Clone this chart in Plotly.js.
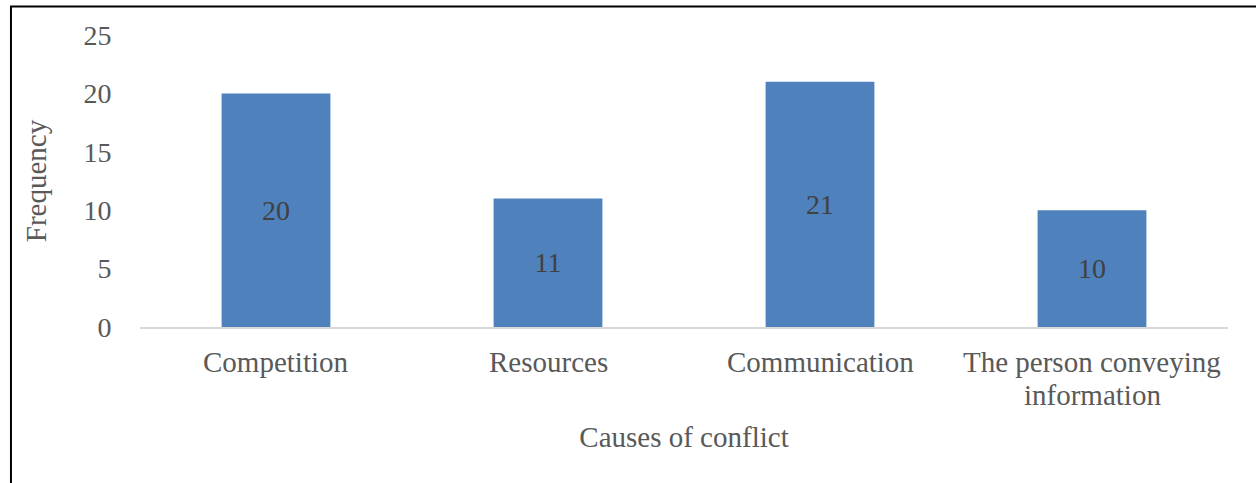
<!DOCTYPE html>
<html>
<head>
<meta charset="utf-8">
<script src="https://cdn.plot.ly/plotly-3.0.1.min.js"></script>
<style>
  html, body { margin: 0; padding: 0; background: #fff; }
  #chart { width: 1256px; height: 483px; }
</style>
</head>
<body>
<div id="chart"></div>
<script>
// Causes of conflict and how often each was reported
const categories = ['Competition', 'Resources', 'Communication', 'The person conveying<br>information'];
const frequency = [20, 11, 21, 10];
const yTicks = [0, 5, 10, 15, 20, 25];

const serif = '"Liberation Serif", "Times New Roman", serif';
const grey = '#595959';

const trace = {
  type: 'bar',
  x: categories,
  y: frequency,
  width: 0.4,
  marker: { color: '#4f81bd', line: { width: 0 } },
  text: frequency.map(String),
  textposition: 'inside',
  insidetextanchor: 'middle',
  textangle: 0,
  textfont: { family: serif, size: 28, color: '#404040' },
  hoverinfo: 'x+y'
};

// category labels, one annotation per text line so the line gap stays tight
const labelLines = [];
categories.forEach(function (cat) {
  cat.split('<br>').forEach(function (line, i) {
    labelLines.push({
      x: cat, xref: 'x',
      y: 0, yref: 'paper',
      yanchor: 'middle', xanchor: 'center',
      yshift: -35 - i * 33,
      text: line,
      showarrow: false,
      font: { family: serif, size: 29, color: grey }
    });
  });
});

const layout = {
  width: 1256,
  height: 483,
  margin: { l: 140, r: 28, t: 34.5, b: 156 },
  paper_bgcolor: '#ffffff',
  plot_bgcolor: '#ffffff',
  showlegend: false,
  font: { family: serif, color: grey, size: 28 },
  xaxis: {
    type: 'category',
    showgrid: false,
    showline: true,
    linecolor: '#d9d9d9',
    linewidth: 2,
    zeroline: false,
    showticklabels: false,
    ticks: '',
    title: { text: 'Causes of conflict', font: { family: serif, size: 29, color: grey }, standoff: 99 }
  },
  yaxis: {
    range: [0, 25],
    tickvals: yTicks,
    ticktext: yTicks.map(String),
    showgrid: false,
    showline: false,
    zeroline: false,
    ticks: 'outside',
    ticklen: 22,
    tickcolor: 'rgba(0,0,0,0)',
    tickfont: { family: serif, size: 28, color: grey },
    title: { text: 'Frequency', font: { family: serif, size: 29, color: grey }, standoff: 28 }
  },
  annotations: labelLines,
  // frame lines along the left and top edges of the figure box
  shapes: [
    { type: 'line', xref: 'paper', yref: 'paper', x0: -0.1186, x1: -0.1186, y0: 1.0974, y1: -0.6, line: { color: '#000', width: 2 } },
    { type: 'line', xref: 'paper', yref: 'paper', x0: -0.1195, x1: 1.1, y0: 1.0974, y1: 1.0974, line: { color: '#000', width: 2 } }
  ]
};

Plotly.newPlot('chart', [trace], layout, { displayModeBar: false, staticPlot: true });
</script>
</body>
</html>
